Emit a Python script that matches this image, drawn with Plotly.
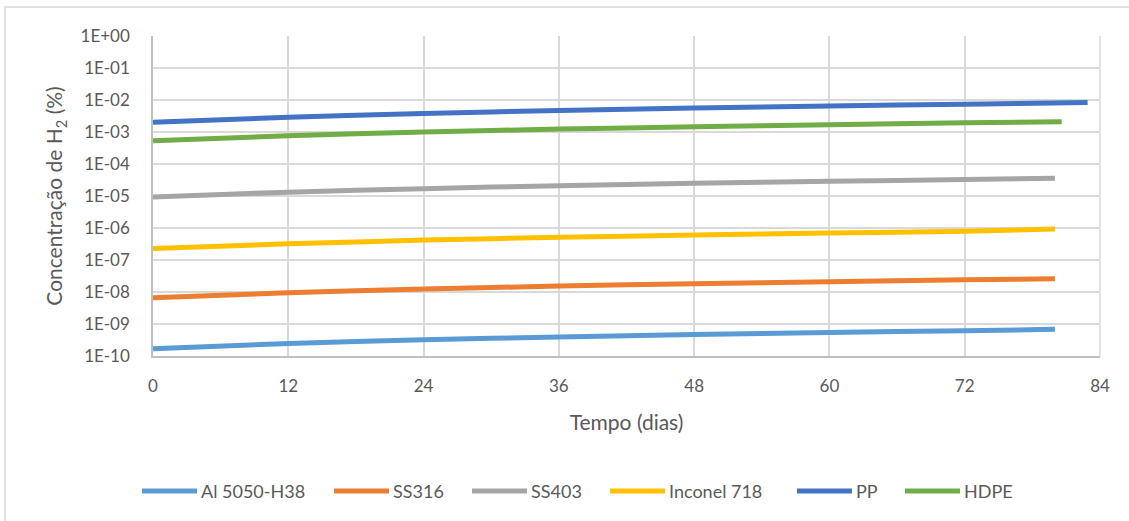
import plotly.graph_objects as go

# Time samples (days) for each material
t_al = [0, 12, 24, 36, 48, 60, 72, 80]
t_ss316 = [0, 12, 24, 36, 48, 60, 72, 80]
t_ss403 = [0, 12, 24, 36, 48, 60, 72, 80]
t_inconel = [0, 12, 24, 36, 48, 60, 72, 80]
t_pp = [0, 12, 24, 36, 48, 60, 72, 82.9]
t_hdpe = [0, 12, 24, 36, 48, 60, 72, 80.6]

# H2 concentration (%) over time
c_al = [1.7e-10, 2.45e-10, 3.2e-10, 3.95e-10, 4.7e-10, 5.45e-10, 6.2e-10, 6.8e-10]
c_ss316 = [6.6e-9, 9.5e-9, 1.24e-8, 1.53e-8, 1.82e-8, 2.1e-8, 2.4e-8, 2.6e-8]
c_ss403 = [9.3e-6, 1.32e-5, 1.7e-5, 2.1e-5, 2.5e-5, 2.88e-5, 3.28e-5, 3.6e-5]
c_inconel = [2.3e-7, 3.2e-7, 4.2e-7, 5.1e-7, 6.0e-7, 7.0e-7, 7.9e-7, 9.3e-7]
c_pp = [2.0e-3, 2.9e-3, 3.8e-3, 4.7e-3, 5.6e-3, 6.5e-3, 7.4e-3, 8.3e-3]
c_hdpe = [5.3e-4, 7.6e-4, 1.0e-3, 1.23e-3, 1.46e-3, 1.7e-3, 1.93e-3, 2.1e-3]

names = ["Al 5050-H38", "SS316", "SS403", "Inconel 718", "PP", "HDPE"]
times = [t_al, t_ss316, t_ss403, t_inconel, t_pp, t_hdpe]
concs = [c_al, c_ss316, c_ss403, c_inconel, c_pp, c_hdpe]
colors = ["#5B9BD5", "#ED7D31", "#A5A5A5", "#FFC000", "#4472C4", "#70AD47"]

x_ticks = [0, 12, 24, 36, 48, 60, 72, 84]
y_tickvals = [10.0 ** e for e in range(-10, 1)]
y_ticktext = ["1E-10", "1E-09", "1E-08", "1E-07", "1E-06", "1E-05",
              "1E-04", "1E-03", "1E-02", "1E-01", "1E+00"]

FONT = "Lato, 'Open Sans', sans-serif"
TXT = "#595959"

# plot area geometry in pixels (used to place frame and legend)
L, R, T, B = 153, 1100, 36, 356
PW, PH = R - L, B - T


def px_x(p):
    return (p - L) / PW


def px_y(p):
    return (B - p) / PH


fig = go.Figure()
for name, t, c, color in zip(names, times, concs, colors):
    fig.add_trace(go.Scatter(
        x=t, y=c, name=name, mode="lines", showlegend=False,
        line=dict(color=color, width=5, shape="spline", smoothing=0.6),
    ))

# legend row: swatch line + label for each series
legend_starts = [142, 334, 472, 610, 797, 905]
legend_y = 491
shapes = [
    # outer chart frame
    dict(type="rect", xref="paper", yref="paper",
         x0=px_x(5), x1=1.1, y0=-0.6, y1=px_y(7),
         line=dict(color="#D9D9D9", width=1.5), fillcolor="rgba(0,0,0,0)", layer="below"),
    # right edge of the plot area
    dict(type="line", xref="paper", yref="paper", x0=1, x1=1, y0=0, y1=1,
         line=dict(color="#D9D9D9", width=1.5), layer="below"),
]
annotations = []
for name, color, xs in zip(names, colors, legend_starts):
    shapes.append(dict(type="line", xref="paper", yref="paper",
                       x0=px_x(xs), x1=px_x(xs + 55), y0=px_y(legend_y), y1=px_y(legend_y),
                       line=dict(color=color, width=5)))
    annotations.append(dict(xref="paper", yref="paper", x=px_x(xs + 57), y=px_y(legend_y),
                            xanchor="left", yanchor="middle", showarrow=False, text=name,
                            font=dict(family=FONT, size=18, color=TXT)))

fig.update_layout(
    width=1129, height=521,
    margin=dict(l=L, r=1129 - R, t=T, b=521 - B),
    paper_bgcolor="white", plot_bgcolor="white",
    font=dict(family=FONT, color=TXT, size=17),
    showlegend=False,
    xaxis=dict(
        range=[0, 84], tickvals=x_ticks, ticktext=[str(v) for v in x_ticks],
        showgrid=True, gridcolor="#D9D9D9", gridwidth=1.5,
        showline=True, linecolor="#BFBFBF", linewidth=1.5,
        zeroline=False, ticks="", ticklabelstandoff=14,
        tickfont=dict(size=17, color=TXT),
        title=dict(text="Tempo (dias)", font=dict(size=21, color=TXT), standoff=20),
    ),
    yaxis=dict(
        type="log", range=[-10, 0],
        tickvals=y_tickvals, ticktext=y_ticktext,
        showgrid=True, gridcolor="#D9D9D9", gridwidth=1.5,
        showline=True, linecolor="#BFBFBF", linewidth=1.5,
        zeroline=False, ticks="", ticklabelstandoff=18,
        tickfont=dict(size=17, color=TXT),
        title=dict(text="Concentração de H<sub>2</sub> (%)", font=dict(size=21, color=TXT), standoff=12),
    ),
    shapes=shapes,
    annotations=annotations,
)

fig.write_html("out.html")
